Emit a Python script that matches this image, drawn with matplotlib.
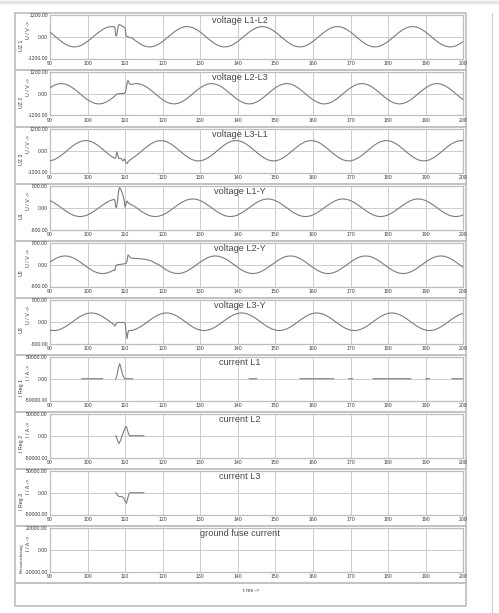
import matplotlib
matplotlib.use("Agg")
import matplotlib.pyplot as plt
import numpy as np

W, H = 499, 613
nan = float("nan")

# time base in ms: 1 ms steps, finer around the fault
t_pre = list(range(90, 108))
t_fault = [107.25, 107.5, 107.75, 108, 108.25, 108.5, 108.75, 109, 109.25,
           109.5, 109.75, 110, 110.25, 110.5, 110.75, 111, 111.5, 112]
t_post = list(range(113, 201))

# voltage L1-L2
u12_pre = [256, 88, -88, -256, -398, -502, -556, -556, -502, -398, -256, -88,
           88, 256, 398, 502, 556, 556]
u12_fault = [540, 60, 60, 400, 640, 670, 640, 600, 580, 560, 520, 480, 40, 20,
             0, -30, -50, -95]
u12_post = [-256, -398, -502, -556, -556, -502, -398, -256, -88, 88, 256, 398, 502, 556, 556, 502, 398, 256, 88, -88,
            -256, -398, -502, -556, -556, -502, -398, -256, -88, 88, 256, 398, 502, 556, 556, 502, 398, 256, 88, -88,
            -256, -398, -502, -556, -556, -502, -398, -256, -88, 88, 256, 398, 502, 556, 556, 502, 398, 256, 88, -88,
            -256, -398, -502, -556, -556, -502, -398, -256, -88, 88, 256, 398, 502, 556, 556, 502, 398, 256, 88, -88,
            -256, -398, -502, -556, -556, -502, -398, -256]

# voltage L2-L3
u23_pre = [331, 455, 535, 563, 535, 455, 331, 174, 0, -174, -331, -455, -535,
           -563, -535, -455, -331, -174]
u23_fault = [-130, -60, -30, -10, 0, 5, 10, 10, 15, 20, 25, 60, 250, 550, 740,
             620, 500, 535]
u23_post = [563, 535, 455, 331, 174, 0, -174, -331, -455, -535, -563, -535, -455, -331, -174, 0, 174, 331, 455, 535,
            563, 535, 455, 331, 174, 0, -174, -331, -455, -535, -563, -535, -455, -331, -174, 0, 174, 331, 455, 535,
            563, 535, 455, 331, 174, 0, -174, -331, -455, -535, -563, -535, -455, -331, -174, 0, 174, 331, 455, 535,
            563, 535, 455, 331, 174, 0, -174, -331, -455, -535, -563, -535, -455, -331, -174, 0, 174, 331, 455, 535,
            563, 535, 455, 331, 174, 0, -174, -331]

# voltage L3-L1
u31_pre = [-556, -502, -398, -256, -88, 88, 256, 398, 502, 556, 556, 502, 398,
           256, 88, -88, -256, -398]
u31_fault = [-420, -380, -60, -200, -420, -430, -420, -440, -520, -560, -450,
             -520, -680, -700, -620, -560, -480, -400]
u31_post = [-256, -88, 88, 256, 398, 502, 556, 556, 502, 398, 256, 88, -88, -256, -398, -502, -556, -556, -502, -398,
            -256, -88, 88, 256, 398, 502, 556, 556, 502, 398, 256, 88, -88, -256, -398, -502, -556, -556, -502, -398,
            -256, -88, 88, 256, 398, 502, 556, 556, 502, 398, 256, 88, -88, -256, -398, -502, -556, -556, -502, -398,
            -256, -88, 88, 256, 398, 502, 556, 556, 502, 398, 256, 88, -88, -256, -398, -502, -556, -556, -502, -398,
            -256, -88, 88, 256, 398, 502, 556, 556]

# voltage L1-Y
u1_pre = [263, 191, 100, 0, -100, -191, -263, -309, -325, -309, -263, -191,
          -100, 0, 100, 191, 263, 309]
u1_fault = [280, 20, 20, 300, 600, 740, 700, 620, 540, 420, 250, 20, 150, 250,
            200, 160, 120, 90]
u1_post = [0, -100, -191, -263, -309, -325, -309, -263, -191, -100, 0, 100, 191, 263, 309, 325, 309, 263, 191, 100,
           0, -100, -191, -263, -309, -325, -309, -263, -191, -100, 0, 100, 191, 263, 309, 325, 309, 263, 191, 100,
           0, -100, -191, -263, -309, -325, -309, -263, -191, -100, 0, 100, 191, 263, 309, 325, 309, 263, 191, 100,
           0, -100, -191, -263, -309, -325, -309, -263, -191, -100, 0, 100, 191, 263, 309, 325, 309, 263, 191, 100,
           0, -100, -191, -263, -309, -325, -309, -263]

# voltage L2-Y
u2_pre = [100, 191, 263, 309, 325, 309, 263, 191, 100, 0, -100, -191, -263,
          -309, -325, -309, -263, -191]
u2_fault = [-220, -40, -10, 0, 5, 10, 15, 20, 25, 30, 35, 40, 45, 150, 360,
            330, 250, 240]
u2_post = [230, 220, 205, 180, 140, 60,
           0, -100, -191, -263, -309, -325, -309, -263, -191, -100, 0, 100, 191, 263, 309, 325, 309, 263, 191, 100,
           0, -100, -191, -263, -309, -325, -309, -263, -191, -100, 0, 100, 191, 263, 309, 325, 309, 263, 191, 100,
           0, -100, -191, -263, -309, -325, -309, -263, -191, -100, 0, 100, 191, 263, 309, 325, 309, 263, 191, 100,
           0, -100, -191, -263, -309, -325, -309, -263, -191, -100, 0, 100, 191, 263, 309, 325, 309, 263, 191, 100,
           0, -100]

# voltage L3-Y
u3_pre = [-309, -325, -309, -263, -191, -100, 0, 100, 191, 263, 309, 325, 309,
          263, 191, 100, 0, -100]
u3_fault = [-160, -100, -40, -30, -25, -20, -30, -25, -20, -25, -30, -60, -350,
            -620, -400, -320, -320, -310]
u3_post = [-263, -191, -100, 0, 100, 191, 263, 309, 325, 309, 263, 191, 100, 0, -100, -191, -263, -309, -325, -309,
           -263, -191, -100, 0, 100, 191, 263, 309, 325, 309, 263, 191, 100, 0, -100, -191, -263, -309, -325, -309,
           -263, -191, -100, 0, 100, 191, 263, 309, 325, 309, 263, 191, 100, 0, -100, -191, -263, -309, -325, -309,
           -263, -191, -100, 0, 100, 191, 263, 309, 325, 309, 263, 191, 100, 0, -100, -191, -263, -309, -325, -309,
           -263, -191, -100, 0, 100, 191, 263, 309]

# currents (gaps where the recorder shows no trace)
i1_t = [98.5, 104, nan, 107.5, 107.9, 108.2, 108.55, 108.9, 109.3, 109.7, 110.0, 112,
        nan, 143, 145, nan, 156.5, 165.5, nan, 169.5, 170.5, nan, 176, 186,
        nan, 190, 191, nan, 197, 200]
i1 = [0, 0, nan, 0, 10000, 25000, 35000, 24000, 10000, 2000, 0, 0,
      nan, 0, 0, nan, 0, 0, nan, 0, 0, nan, 0, 0, nan, 0, 0, nan, 0, 0]
i23_t = [107.5, 107.8, 108.1, 108.4, 108.8, 109.2, 109.6, 110.0, 110.35, 110.7,
         111.1, 111.3, 115]
i2 = [0, -6000, -14000, -18000, -10000, 0, 10000, 18000, 21000, 10000, 1000, 0, 0]
i3 = [0, -3000, -7000, -8500, -9000, -9000, -12000, -20000, -24000, -12000,
      -1000, 0, 0]

titles = ["voltage L1-L2", "voltage L2-L3", "voltage L3-L1", "voltage L1-Y",
          "voltage L2-Y", "voltage L3-Y", "current L1", "current L2",
          "current L3", "ground fuse current"]
name_labels = ["UZ 1", "UZ 2", "UZ 3", "U1", "U2", "U3", "I Reg 1", "I Reg 2",
               "I Reg 3", "Kennzeichnung"]
unit_labels = ["U / V ->"] * 6 + ["I / A ->"] * 4
limits = [1200, 1200, 1200, 800, 800, 800, 50000, 50000, 50000, 20000]
x_ticks = list(range(90, 201, 10))

t_all = t_pre + t_fault + t_post
series = [
    (t_all, u12_pre + u12_fault + u12_post),
    (t_all, u23_pre + u23_fault + u23_post),
    (t_all, u31_pre + u31_fault + u31_post),
    (t_all, u1_pre + u1_fault + u1_post),
    (t_all, u2_pre + u2_fault + u2_post),
    (t_all, u3_pre + u3_fault + u3_post),
    (i1_t, i1),
    (i23_t, i2),
    (i23_t, i3),
    None,
]

plt.rcParams["font.family"] = ["Liberation Sans", "DejaVu Sans"]
fig = plt.figure(figsize=(W / 100, H / 100), dpi=100)

frame = "#bdbdbd"
grid_c = "#cccccc"
line_c = "#7c7c7c"
text_c = "#3a3a3a"

for i in range(10):
    top = 15 + 57 * i
    hgt = 43.5
    ax = fig.add_axes([50 / W, 1 - (top + hgt) / H, 413.3 / W, hgt / H])
    lim = limits[i]
    ax.set_xlim(90, 200)
    ax.set_ylim(-lim, lim)
    ax.set_xticks(x_ticks)
    ax.set_yticks([lim, 0, -lim])
    ax.set_yticklabels([f"{v:.2f}" for v in (lim, 0, -lim)])
    ax.tick_params(length=0, labelsize=3.7, colors=text_c, pad=1.6)
    ax.grid(axis="x", color=grid_c, lw=0.7)
    ax.axhline(0, color=grid_c, lw=0.7, zorder=1)
    for s in ax.spines.values():
        s.set_color(frame)
        s.set_linewidth(0.9)
    if series[i] is not None:
        ax.plot(series[i][0], series[i][1], color=line_c, lw=0.8, zorder=3)
    ax.text(0.46, 0.985, titles[i], transform=ax.transAxes, ha="center",
            va="top", fontsize=6.6, color="#474747")
    fig.text(21.5 / W, 1 - (top + 30) / H, name_labels[i], rotation=90,
             ha="center", va="center", fontsize=3.8 if i < 9 else 3.2,
             color=text_c)
    fig.text(28.5 / W, 1 - (top + 15) / H, unit_labels[i], rotation=90,
             ha="center", va="center", fontsize=3.8, color=text_c)

# page frame and panel separators
deco = fig.add_axes([0, 0, 1, 1], zorder=-1)
deco.set_xlim(0, W)
deco.set_ylim(H, 0)
deco.axis("off")
deco.plot([15, 466, 466, 15, 15], [13, 13, 606, 606, 13], color=frame, lw=1.2)
for i in range(10):
    y = 70 + 57 * i if i < 9 else 583
    deco.plot([15, 466], [y, y], color=frame, lw=1.3)
deco.plot([0, W], [1.5, 1.5], color="#e4e4e4", lw=2.5)
deco.plot([492, 492], [13, H], color="#d0d0d0", lw=0.8)
deco.text(251, 591, "t ms ->", ha="center", va="center", fontsize=3.8,
          color=text_c)

fig.savefig("out.png", dpi=100)
